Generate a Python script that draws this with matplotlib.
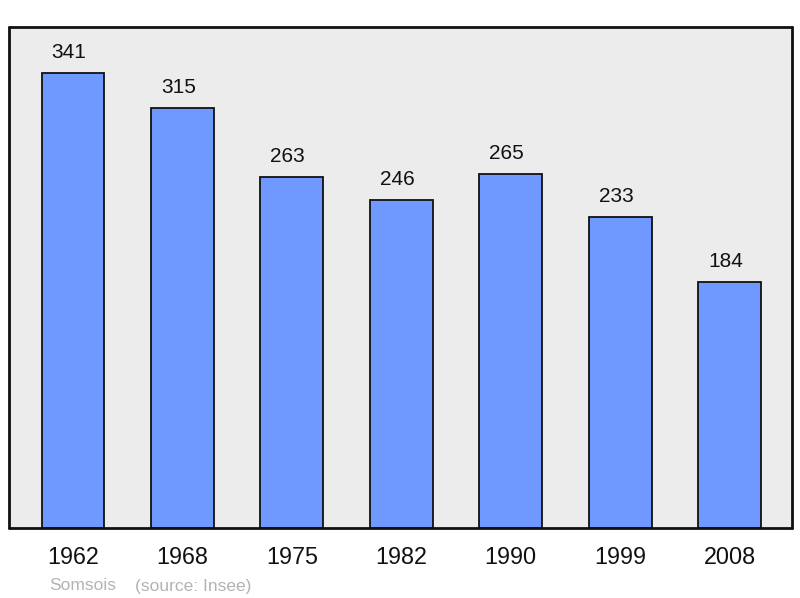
import matplotlib.pyplot as plt

plt.rcParams['font.family'] = ['Liberation Sans', 'DejaVu Sans']

years = ['1962', '1968', '1975', '1982', '1990', '1999', '2008']
population = [341, 315, 263, 246, 265, 233, 184]

fig = plt.figure(figsize=(8, 5.98), dpi=100)
ax = fig.add_axes([0.01125, 0.1171, 0.97875, 0.8378])
ax.set_facecolor('#ececec')

x = list(range(len(years)))
ax.bar(x, population, width=0.575, color='#7099ff', edgecolor='#111111', linewidth=1.3, zorder=2)

# value labels above each bar
for xi, v in zip(x, population):
    ax.annotate(str(v), (xi, v), xytext=(-3, 8), textcoords='offset points',
                ha='center', va='bottom', fontsize=15, color='#111111')

ax.set_xlim(-0.585, 6.571)
ax.set_ylim(0, 375.5)
ax.set_xticks(x)
ax.set_xticklabels(years, fontsize=16.8, color='#111111')
ax.tick_params(axis='x', length=0, pad=13)
ax.set_yticks([])
for s in ax.spines.values():
    s.set_linewidth(2)
    s.set_color('#111111')
    s.set_capstyle('round')
    s.set_joinstyle('round')

fig.text(49 / 800, 1 - 586 / 598, 'Somsois', color='#b3b3b3', fontsize=12.5, va='center')
fig.text(135 / 800, 1 - 586 / 598, '(source: Insee)', color='#b3b3b3', fontsize=12.5, va='center')

fig.savefig('out.png', dpi=100)
